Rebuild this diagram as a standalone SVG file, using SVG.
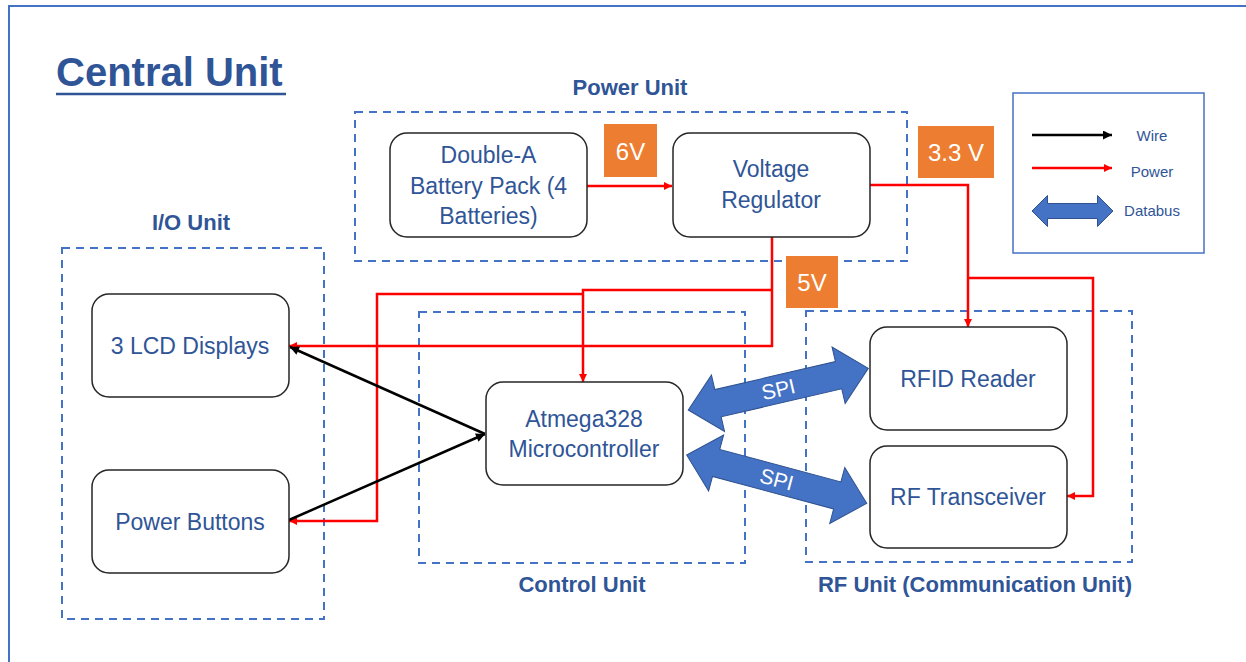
<svg xmlns="http://www.w3.org/2000/svg" width="1246" height="662" viewBox="0 0 1246 662">
<style>
.frame{fill:none;stroke:#4472C4;stroke-width:2}
.grp{fill:none;stroke:#4472C4;stroke-width:2;stroke-dasharray:8 6}
.node{fill:#fff;stroke:#262626;stroke-width:1.5}
.t{font-family:"Liberation Sans",Arial,sans-serif;font-size:23px;fill:#2F5597;text-anchor:middle}
.gl{font-family:"Liberation Sans",Arial,sans-serif;font-size:22px;font-weight:bold;fill:#2F5597;text-anchor:middle}
.lg{font-family:"Liberation Sans",Arial,sans-serif;font-size:15px;fill:#2F5597;text-anchor:middle}
.volt{fill:#ED7D31}
.vt{font-family:"Liberation Sans",Arial,sans-serif;font-size:24px;fill:#fff;text-anchor:middle}
.pw{fill:none;stroke:#FF0000;stroke-width:2.5}
.wr{fill:none;stroke:#000;stroke-width:2.5}
.bus{fill:#4472C4;stroke:#2F528F;stroke-width:1}
.spi{font-family:"Liberation Sans",Arial,sans-serif;font-size:21px;fill:#fff;text-anchor:middle}
</style>
<defs>
<marker id="ar" viewBox="0 0 10 10" refX="10" refY="5" markerWidth="10" markerHeight="8" markerUnits="userSpaceOnUse" orient="auto"><path d="M0,0 L10,5 L0,10 z" fill="#FF0000"/></marker>
<marker id="ab" viewBox="0 0 10 10" refX="10" refY="5" markerWidth="11" markerHeight="9" markerUnits="userSpaceOnUse" orient="auto"><path d="M0,0 L10,5 L0,10 z" fill="#000"/></marker>
</defs>
<rect width="1246" height="662" fill="#fff"/>
<path class="frame" d="M1246,6 H9 V662"/>
<g id="title">
<text x="56" y="86" font-family="Liberation Sans,Arial,sans-serif" font-size="40" font-weight="bold" fill="#2F5597">Central Unit</text>
<line x1="56" y1="94" x2="286" y2="94" stroke="#2F5597" stroke-width="2.5"/>
</g>
<g id="power-unit"><rect class="grp" x="355" y="112" width="552" height="149"/><text class="gl" x="630" y="95">Power Unit</text></g>
<g id="io-unit"><rect class="grp" x="62" y="248" width="262" height="371"/><text class="gl" x="191" y="230">I/O Unit</text></g>
<g id="control-unit"><rect class="grp" x="419" y="312" width="326" height="251"/><text class="gl" x="582" y="592">Control Unit</text></g>
<g id="rf-unit"><rect class="grp" x="806" y="311" width="326" height="251"/><text class="gl" x="975" y="592">RF Unit (Communication Unit)</text></g>
<g id="connectors">
<path class="pw" d="M587,186 H672" marker-end="url(#ar)"/>
<path class="pw" d="M870,185 H968 V327" marker-end="url(#ar)"/>
<path class="pw" d="M968,278 H1093 V496 H1067" marker-end="url(#ar)"/>
<path class="pw" d="M772,237 V346 H289" marker-end="url(#ar)"/>
<path class="pw" d="M772,290 H583 V382" marker-end="url(#ar)"/>
<path class="pw" d="M583,294 H377 V521 H289" marker-end="url(#ar)"/>
<path class="wr" d="M289,520 L485,434" marker-end="url(#ab)"/>
<path class="wr" d="M485,434 L290,347" marker-end="url(#ab)"/>
<g transform="translate(778.3,389.2) rotate(-13.04)">
<polygon class="bus" points="-92.4,0 -61.9,-29 -61.9,-14 61.9,-14 61.9,-29 92.4,0 61.9,29 61.9,14 -61.9,14 -61.9,29"/>
<text class="spi" x="0" y="7.5">SPI</text>
</g>
<g transform="translate(776.7,479.2) rotate(15.02)">
<polygon class="bus" points="-93.2,0 -62.7,-29 -62.7,-14 62.7,-14 62.7,-29 93.2,0 62.7,29 62.7,14 -62.7,14 -62.7,29"/>
<text class="spi" x="0" y="7.5">SPI</text>
</g>
</g>
<g id="battery"><rect class="node" x="390" y="133" width="197" height="104" rx="17"/><text class="t" x="488.5" y="163">Double-A</text><text class="t" x="488.5" y="194">Battery Pack (4</text><text class="t" x="488.5" y="224">Batteries)</text></g>
<g id="regulator"><rect class="node" x="673" y="133" width="197" height="104" rx="17"/><text class="t" x="771" y="177">Voltage</text><text class="t" x="771" y="208">Regulator</text></g>
<g id="lcd"><rect class="node" x="92" y="294" width="197" height="103" rx="17"/><text class="t" x="190" y="354">3 LCD Displays</text></g>
<g id="buttons"><rect class="node" x="92" y="470" width="197" height="103" rx="17"/><text class="t" x="190" y="530">Power Buttons</text></g>
<g id="atmega"><rect class="node" x="486" y="382" width="197" height="103" rx="17"/><text class="t" x="584" y="427">Atmega328</text><text class="t" x="584" y="457">Microcontroller</text></g>
<g id="rfid"><rect class="node" x="870" y="327" width="197" height="103" rx="17"/><text class="t" x="968" y="387">RFID Reader</text></g>
<g id="transceiver"><rect class="node" x="870" y="446" width="197" height="102" rx="17"/><text class="t" x="968" y="505">RF Transceiver</text></g>
<g id="v6"><rect class="volt" x="604" y="124" width="53" height="53"/><text class="vt" x="630.5" y="160">6V</text></g>
<g id="v33"><rect class="volt" x="918" y="126" width="76" height="52"/><text class="vt" x="956" y="161">3.3 V</text></g>
<g id="v5"><rect class="volt" x="786" y="256" width="52" height="52"/><text class="vt" x="812" y="291">5V</text></g>
<g id="legend">
<rect x="1013" y="93" width="191" height="160" fill="#fff" stroke="#4472C4" stroke-width="1.5"/>
<path class="wr" d="M1032,135 H1112" stroke-width="2" marker-end="url(#ab)"/>
<path class="pw" d="M1032,168 H1112" stroke-width="2" marker-end="url(#ar)"/>
<polygon class="bus" points="1032,211 1047.5,195.5 1047.5,203.5 1097.5,203.5 1097.5,195.5 1113,211 1097.5,226.5 1097.5,218.5 1047.5,218.5 1047.5,226.5"/>
<text class="lg" x="1152" y="141">Wire</text>
<text class="lg" x="1152" y="177">Power</text>
<text class="lg" x="1152" y="216">Databus</text>
</g>
</svg>
